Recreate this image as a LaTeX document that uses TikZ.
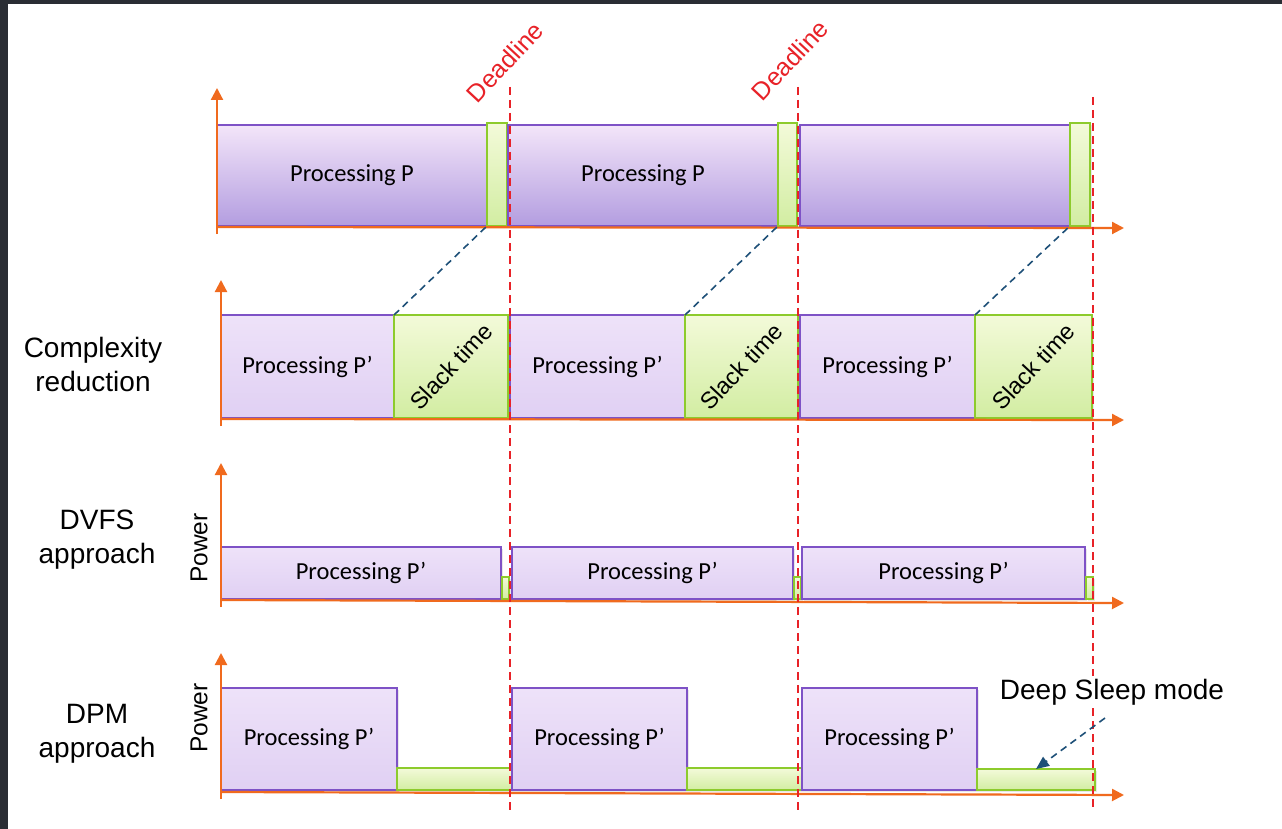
\documentclass[tikz,border=0pt]{standalone}
\usepackage{fontspec}
\setmainfont{Liberation Sans}
\newfontfamily\calfont{Carlito}
\usetikzlibrary{arrows.meta,shadows}

\definecolor{framegray}{HTML}{2A2D34}
\definecolor{procedge}{HTML}{7E52C6}
\definecolor{proctopA}{HTML}{F3E5F9}
\definecolor{procbotA}{HTML}{B39DE0}
\definecolor{proctop}{HTML}{EEE2F9}
\definecolor{procbot}{HTML}{E0D0F3}
\definecolor{slackedge}{HTML}{8DCB2C}
\definecolor{slacktop}{HTML}{F3FAD9}
\definecolor{slackbot}{HTML}{D2EDA2}
\definecolor{axisorange}{HTML}{F06A1E}
\definecolor{deadred}{HTML}{E82228}
\definecolor{linkblue}{HTML}{1E5078}

% one time segment: style, name, lower-left corner, width, height, text
\newcommand\seg[6]{\node[#1,anchor=south west,minimum width=#4pt,minimum height=#5pt] (#2) at #3 {#6};}

\tikzset{
  boxbase/.style={line width=1.2pt, inner sep=0pt, outer sep=0pt,
    drop shadow={opacity=0.18, shadow xshift=1.5pt, shadow yshift=-2pt}},
  procA/.style={boxbase, draw=procedge, top color=proctopA, bottom color=procbotA,
    font=\calfont\fontsize{24.5}{28}\selectfont},
  proc/.style={boxbase, draw=procedge, top color=proctop, bottom color=procbot,
    font=\calfont\fontsize{24.5}{28}\selectfont},
  slack/.style={boxbase, draw=slackedge, top color=slacktop, bottom color=slackbot},
  axis/.style={draw=axisorange, line width=2.2pt,
    -{Triangle[length=12pt,width=12pt]}},
  deadline/.style={draw=deadred, line width=1.6pt, dash pattern=on 8pt off 5pt},
  link/.style={draw=linkblue, line width=1.6pt, dash pattern=on 7pt off 5pt},
  slacktext/.style={rotate=47, font=\fontsize{23.5}{26}\selectfont},
  deadtext/.style={rotate=47, text=deadred, font=\fontsize{25}{28}\selectfont},
  rowlabel/.style={align=center, font=\fontsize{28}{34}\selectfont},
  powertext/.style={rotate=90, font=\fontsize{24.5}{28}\selectfont}
}

\begin{document}
\begin{tikzpicture}[x=1pt,y=-1pt]
\useasboundingbox (0,0) rectangle (1282,829);
\fill[white] (0,0) rectangle (1282,829);
% window frame
\fill[framegray] (0,0) rectangle (1282,4);
\fill[framegray] (0,0) rectangle (8,829);

% row 1: original processing
\seg{procA}{p11}{(217,226)}{270}{101}{Processing P}
\seg{slack}{s11}{(487,226)}{20}{103}{}
\seg{procA}{p12}{(508,226)}{270}{101}{Processing P}
\seg{slack}{s12}{(778,226)}{19}{103}{}
\seg{procA}{p13}{(800,226)}{270}{101}{}
\seg{slack}{s13}{(1070,226)}{20}{103}{}

% row 2: complexity reduction
\seg{proc}{p21}{(221,418)}{173}{103}{Processing P’}
\seg{slack}{s21}{(394,418)}{114}{103}{}
\seg{proc}{p22}{(510,418)}{175}{103}{Processing P’}
\seg{slack}{s22}{(685,418)}{113}{103}{}
\seg{proc}{p23}{(800,418)}{175}{103}{Processing P’}
\seg{slack}{s23}{(975,418)}{117}{103}{}
\node[slacktext] (t21) at (s21.center) {Slack time};
\node[slacktext] (t22) at (s22.center) {Slack time};
\node[slacktext] (t23) at (s23.center) {Slack time};

% row 3: DVFS
\seg{proc}{p31}{(221,599)}{280}{52}{Processing P’}
\seg{slack}{s31}{(502,599)}{7}{22}{}
\seg{proc}{p32}{(512,599)}{281}{52}{Processing P’}
\seg{slack}{s32}{(794,599)}{7}{22}{}
\seg{proc}{p33}{(802,599)}{283}{52}{Processing P’}
\seg{slack}{s33}{(1086,599)}{7}{22}{}

% row 4: DPM
\seg{proc}{p41}{(221,790)}{176}{102}{Processing P’}
\seg{slack}{s41}{(397,790)}{115}{22}{}
\seg{proc}{p42}{(512,790)}{175}{102}{Processing P’}
\seg{slack}{s42}{(687,790)}{115}{22}{}
\seg{proc}{p43}{(802,790)}{175}{102}{Processing P’}
\seg{slack}{s43}{(977,790)}{118}{21}{}

% axes
\coordinate (o1) at (217,227);  \coordinate (y1) at (217,88);  \coordinate (x1) at (1124,228);
\coordinate (o2) at (221,419);  \coordinate (y2) at (221,280); \coordinate (x2) at (1124,420);
\coordinate (o3) at (221,600);  \coordinate (y3) at (221,463); \coordinate (x3) at (1124,603);
\coordinate (o4) at (221,792);  \coordinate (y4) at (221,653); \coordinate (x4) at (1124,795);
\foreach \r in {1,2,3,4}{
  \draw[axis] ([yshift=-7pt]o\r) -- (y\r);
  \draw[axis] (o\r) -- (x\r);
}

% deadlines
\coordinate (d1t) at (510,87);   \coordinate (d1b) at (510,810);
\coordinate (d2t) at (798,87);   \coordinate (d2b) at (798,810);
\coordinate (d3t) at (1093,97);  \coordinate (d3b) at (1093,810);
\draw[deadline] (d1t) -- (d1b);
\draw[deadline] (d2t) -- (d2b);
\draw[deadline] (d3t) -- (d3b);
\node[deadtext] (dl1) at (505,62) {Deadline};
\node[deadtext] (dl2) at (790,60) {Deadline};

% slack created by complexity reduction
\draw[link] (s21.north west) -- (s11.south west);
\draw[link] (s22.north west) -- (s12.south west);
\draw[link] (s23.north west) -- (s13.south west);

% row labels
\node[rowlabel] (lab2) at (93,364) {Complexity\\reduction};
\node[rowlabel] (lab3) at (97,540) {DVFS\\approach};
\node[rowlabel] (lab4) at (97,734) {DPM\\approach};
\node[powertext] (pw3) at (199,548) {Power};
\node[powertext] (pw4) at (199,718) {Power};

% deep sleep annotation
\node[fill=white, inner sep=3pt, font=\fontsize{28}{32}\selectfont] (deep) at (1112,692) {Deep Sleep mode};
\coordinate (ds) at (1105,718);
\draw[link, -{Triangle[length=13pt,width=11pt]}] (ds) -- (s43.north);
\end{tikzpicture}
\end{document}
